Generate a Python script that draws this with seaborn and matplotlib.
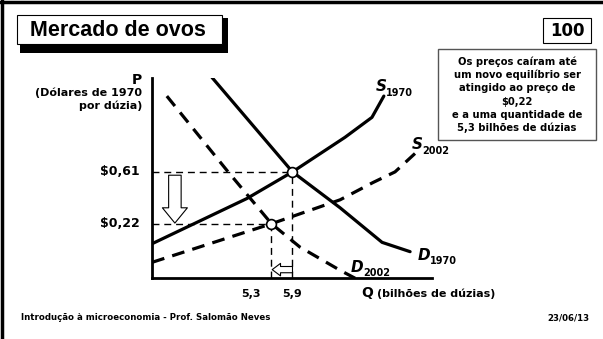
import seaborn as sns
import matplotlib.pyplot as plt
from matplotlib.patches import Rectangle
from matplotlib.lines import Line2D

# curves (Q in bilhões de dúzias, P in dólares de 1970)
s1970_q = [1.89, 4.6, 5.9, 7.4, 8.17, 8.51]
s1970_p = [0.07, 0.41, 0.61, 0.87, 1.02, 1.18]
d1970_q = [3.6, 5.9, 7.26, 8.46, 9.26]
d1970_p = [1.32, 0.61, 0.34, 0.08, 0.01]
s2002_q = [1.89, 5.3, 7.26, 8.2, 8.83, 9.49]
s2002_p = [-0.07, 0.22, 0.40, 0.53, 0.61, 0.77]
d2002_q = [2.31, 4.03, 5.3, 6.11, 7.26, 7.69]
d2002_p = [1.18, 0.62, 0.22, 0.045, -0.13, -0.19]

eq_q = [5.9, 5.3]
eq_p = [0.61, 0.22]
q_labels = ["5,9", "5,3"]
p_labels = ["$0,61", "$0,22"]

info_lines = ["Os preços caíram até", "um novo equilíbrio ser",
              "atingido ao preço de", "$0,22", "e a uma quantidade de",
              "5,3 bilhões de dúzias"]

sns.set_style("white")
plt.rcParams['font.family'] = ['DejaVu Sans']
plt.rcParams['font.weight'] = 'bold'
plt.rcParams['text.color'] = 'black'

W, H = 603, 339
fig = plt.figure(figsize=(W / 100, H / 100), dpi=100)


def fx(x):
    return x / W


def fy(y):
    return 1 - y / H


ax = fig.add_axes([fx(152), fy(278), 280 / W, 200 / H])
xmin, xmax = 1.886, 9.886
ymin, ymax = -0.188, 1.316

solid = dict(color="black", lw=2.3)
dashed = dict(color="black", lw=2.3, linestyle=(0, (4.0, 2.6)))
sns.lineplot(x=s1970_q, y=s1970_p, sort=False, estimator=None, ax=ax, **solid)
sns.lineplot(x=d1970_q, y=d1970_p, sort=False, estimator=None, ax=ax, **solid)
sns.lineplot(x=s2002_q, y=s2002_p, sort=False, estimator=None, ax=ax, **dashed)
sns.lineplot(x=d2002_q, y=d2002_p, sort=False, estimator=None, ax=ax, **dashed)

# guide lines
for q, p in zip(eq_q, eq_p):
    ax.plot([xmin, q], [p, p], color="black", lw=1, linestyle=(0, (5, 3.5)), zorder=1)
    ax.plot([q, q], [ymin, p], color="black", lw=1, linestyle=(0, (5, 3.5)), zorder=1)

sns.scatterplot(x=eq_q, y=eq_p, ax=ax, s=50, color="white", edgecolor="black",
                linewidth=1.2, zorder=5)

# arrows
ax.annotate("", xy=(2.54, eq_p[1] + 0.005), xytext=(2.54, eq_p[0] - 0.025),
            arrowprops=dict(arrowstyle="simple,head_length=11,head_width=18,tail_width=9",
                            mutation_scale=1, fc="white", ec="black", lw=0.8,
                            shrinkA=0, shrinkB=0))
ax.annotate("", xy=(eq_q[1] + 0.02, -0.125), xytext=(eq_q[0], -0.125),
            arrowprops=dict(arrowstyle="simple,head_length=6,head_width=9,tail_width=4.5",
                            mutation_scale=1, fc="white", ec="black", lw=0.8,
                            shrinkA=0, shrinkB=0))

ax.set_xlim(xmin, xmax)
ax.set_ylim(ymin, ymax)
ax.set_xticks([])
ax.set_yticks([])
sns.despine(ax=ax)
for side in ["left", "bottom"]:
    ax.spines[side].set_linewidth(2)
    ax.spines[side].set_color("black")
ax.set_xlabel("")
ax.set_ylabel("")

# tick labels
ax.text(xmin - 0.35, eq_p[0], p_labels[0], ha="right", va="center", fontsize=9)
ax.text(xmin - 0.35, eq_p[1], p_labels[1], ha="right", va="center", fontsize=9)
ax.text(eq_q[0], ymin - 0.08, q_labels[0], ha="center", va="top", fontsize=8)
ax.text(eq_q[1] - 0.6, ymin - 0.08, q_labels[1], ha="center", va="top", fontsize=8)

# axis labels
fig.text(fx(142), fy(80), "P", ha="right", va="center", fontsize=10)
fig.text(fx(142), fy(93), "(Dólares de 1970", ha="right", va="center", fontsize=8)
fig.text(fx(142), fy(106), "por dúzia)", ha="right", va="center", fontsize=8)
fig.text(fx(361), fy(293), "Q", ha="left", va="center", fontsize=10)
fig.text(fx(377), fy(294), "(bilhões de dúzias)", ha="left", va="center", fontsize=8)


def curve_label(x, y, letter, sub, gap):
    fig.text(fx(x), fy(y), letter, ha="left", va="center", fontsize=11, style="italic")
    fig.text(fx(x + gap), fy(y + 6), sub, ha="left", va="center", fontsize=7)


curve_label(376, 87, "S", "1970", 10)
curve_label(412, 145, "S", "2002", 10)
curve_label(418, 255, "D", "1970", 12)
curve_label(351, 267, "D", "2002", 12)

# title box with shadow
fig.add_artist(Rectangle((fx(20), fy(53)), 208 / W, 35 / H, transform=fig.transFigure,
                         facecolor="black", edgecolor="none"))
fig.add_artist(Rectangle((fx(17), fy(44)), 205 / W, 29 / H, transform=fig.transFigure,
                         facecolor="white", edgecolor="black", lw=0.8))
fig.text(fx(118), fy(30), "Mercado de ovos", ha="center", va="center", fontsize=15.5,
         family="Liberation Sans", weight="bold")

# page number box
fig.add_artist(Rectangle((fx(543), fy(43)), 48 / W, 25 / H, transform=fig.transFigure,
                         facecolor="white", edgecolor="black", lw=0.8))
fig.text(fx(567), fy(31), "100", ha="center", va="center", fontsize=12)

# info box
fig.add_artist(Rectangle((fx(438), fy(140)), 158 / W, 91 / H, transform=fig.transFigure,
                         facecolor="white", edgecolor="#555555", lw=1))
for i, line in enumerate(info_lines):
    fig.text(fx(517), fy(62 + 13.2 * i), line, ha="center", va="center", fontsize=7.2)

# footer
fig.text(fx(21), fy(318), "Introdução à microeconomia - Prof. Salomão Neves",
         ha="left", va="center", fontsize=6.2)
fig.text(fx(590), fy(318), "23/06/13", ha="right", va="center", fontsize=6.2)

# slide border
fig.add_artist(Line2D([0, 1], [fy(1.5), fy(1.5)], transform=fig.transFigure,
                      color="black", lw=2.5))
fig.add_artist(Line2D([fx(1.5), fx(1.5)], [0, 1], transform=fig.transFigure,
                      color="black", lw=2.5))

fig.savefig("out.png", dpi=100)
